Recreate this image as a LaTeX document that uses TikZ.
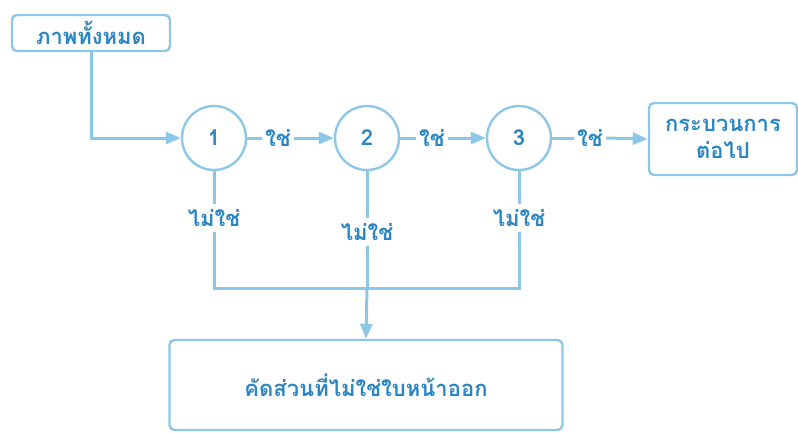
\documentclass[tikz,border=0pt]{standalone}
\usepackage{fontspec}
\newfontfamily\thaifont[Script=Thai]{Loma}
\usetikzlibrary{arrows.meta}
\definecolor{flowline}{HTML}{8DC7E8}
\definecolor{flowtext}{HTML}{2B86C3}

\begin{document}
\begin{tikzpicture}[x=1pt, y=-1pt,
    every node/.style={font=\thaifont\bfseries\fontsize{22}{27}\selectfont, text=flowtext},
    box/.style={draw=flowline, line width=2.4pt, rounded corners=5pt, align=center},
    test/.style={draw=flowline, line width=2.4pt, circle, minimum size=64pt, inner sep=0pt},
    lbl/.style={inner sep=3pt},
    flow/.style={draw=flowline, line width=3pt},
    go/.style={flow, -{Triangle[width=12pt,length=15pt]}}]
    \useasboundingbox (0,0) rectangle (798,432);

    \node[box, minimum width=158pt, minimum height=36pt] (all) at (91,33) {ภาพทั้งหมด};
    \node[test] (c1) at (214,138) {1};
    \node[test] (c2) at (367,138) {2};
    \node[test] (c3) at (519,138) {3};
    \node[box, minimum width=148pt, minimum height=72pt] (next) at (723,139) {กระบวนการ\\ต่อไป};
    \node[box, minimum width=393pt, minimum height=90pt] (out) at (366,385) {คัดส่วนที่ไม่ใช่ใบหน้าออก};

    \node[lbl] (y1) at (278,138) {ใช่};
    \node[lbl] (y2) at (432,138) {ใช่};
    \node[lbl] (y3) at (590,138) {ใช่};
    \node[lbl, inner sep=5pt] (n1) at (214,218) {ไม่ใช่};
    \node[lbl, inner sep=5pt] (n2) at (367,232) {ไม่ใช่};
    \node[lbl, inner sep=5pt] (n3) at (519,218) {ไม่ใช่};
    \coordinate (j) at (367,288);

    \draw[go] (all.south) |- (c1.west);
    \draw[flow] (c1.east) -- (y1.west);
    \draw[go] (y1.east) -- (c2.west);
    \draw[flow] (c2.east) -- (y2.west);
    \draw[go] (y2.east) -- (c3.west);
    \draw[flow] (c3.east) -- (y3.west);
    \draw[go] (y3.east) -- (next.west);

    \draw[flow] (c1.south) -- (n1.north);
    \draw[flow] (c2.south) -- (n2.north);
    \draw[flow] (c3.south) -- (n3.north);
    \draw[flow] (n1.south) |- (j);
    \draw[flow] (n3.south) |- (j);
    \draw[flow] (n2.south) -- (j);
    \draw[go] (j) -- (out.north);
\end{tikzpicture}
\end{document}
